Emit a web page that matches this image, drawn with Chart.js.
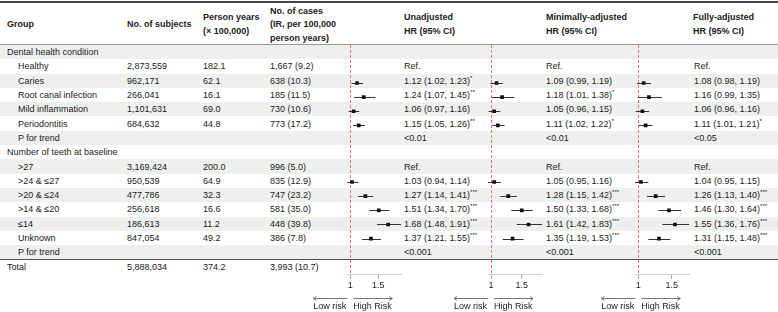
<!DOCTYPE html>
<html>
<head>
<meta charset="utf-8">
<script src="https://cdn.jsdelivr.net/npm/chart.js@4/dist/chart.umd.min.js"></script>
<style>
  body { margin: 0; width: 778px; height: 312px; position: relative; overflow: hidden; background: #fff;
         font-family: "Liberation Sans", Arial, sans-serif; font-size: 9px; color: #222; }
  .t { position: absolute; white-space: nowrap; line-height: 14px; height: 14px; }
  .h { font-weight: bold; }
  .band { position: absolute; left: 0; width: 778px; background: #eef0ee; }
  .rule { position: absolute; left: 0; width: 778px; }
  canvas { position: absolute; top: 45px; }
  sup { font-size: 6px; vertical-align: top; line-height: 9px; }
</style>
</head>
<body>
<div id="table"></div>
<canvas id="forest1" width="100" height="267"></canvas>
<canvas id="forest2" width="100" height="267"></canvas>
<canvas id="forest3" width="100" height="267"></canvas>
<script>
// ---- data ----
const rowLabels = ["Dental health condition", "Healthy", "Caries", "Root canal infection", "Mild inflammation",
  "Periodontitis", "P for trend", "Number of teeth at baseline", ">27", ">24 & \u226427", ">20 & \u226424",
  ">14 & \u226420", "\u226414", "Unknown", "P for trend", "Total"];
const rowIndent = [0, 1, 1, 1, 1, 1, 1, 0, 1, 1, 1, 1, 1, 1, 1, 0];
const subjects = ["", "2,873,559", "962,171", "266,041", "1,101,631", "684,632", "", "",
  "3,169,424", "950,539", "477,786", "256,618", "186,613", "847,054", "", "5,888,034"];
const personYears = ["", "182.1", "62.1", "16.1", "69.0", "44.8", "", "",
  "200.0", "64.9", "32.3", "16.6", "11.2", "49.2", "", "374.2"];
const cases = ["", "1,667 (9.2)", "638 (10.3)", "185 (11.5)", "730 (10.6)", "773 (17.2)", "", "",
  "996 (5.0)", "835 (12.9)", "747 (23.2)", "581 (35.0)", "448 (39.8)", "386 (7.8)", "", "3,993 (10.7)"];

const refRows = [1, 8];
const trendRows = [6, 14];

// unadjusted
const hrUnadj = [null, null, 1.12, 1.24, 1.06, 1.15, null, null, null, 1.03, 1.27, 1.51, 1.68, 1.37, null, null];
const loUnadj = [null, null, 1.02, 1.07, 0.97, 1.05, null, null, null, 0.94, 1.14, 1.34, 1.48, 1.21, null, null];
const hiUnadj = [null, null, 1.23, 1.45, 1.16, 1.26, null, null, null, 1.14, 1.41, 1.70, 1.91, 1.55, null, null];
const starUnadj = ["", "", "*", "**", "", "**", "", "", "", "", "***", "***", "***", "***", "", ""];
const trendUnadj = ["<0.01", "<0.001"];

// minimally adjusted
const hrMin = [null, null, 1.09, 1.18, 1.05, 1.11, null, null, null, 1.05, 1.28, 1.50, 1.61, 1.35, null, null];
const loMin = [null, null, 0.99, 1.01, 0.96, 1.02, null, null, null, 0.95, 1.15, 1.33, 1.42, 1.19, null, null];
const hiMin = [null, null, 1.19, 1.38, 1.15, 1.22, null, null, null, 1.16, 1.42, 1.68, 1.83, 1.53, null, null];
const starMin = ["", "", "", "*", "", "*", "", "", "", "", "***", "***", "***", "***", "", ""];
const trendMin = ["<0.01", "<0.001"];

// fully adjusted
const hrFull = [null, null, 1.08, 1.16, 1.06, 1.11, null, null, null, 1.04, 1.26, 1.46, 1.55, 1.31, null, null];
const loFull = [null, null, 0.98, 0.99, 0.96, 1.01, null, null, null, 0.95, 1.13, 1.30, 1.36, 1.15, null, null];
const hiFull = [null, null, 1.19, 1.35, 1.16, 1.21, null, null, null, 1.15, 1.40, 1.64, 1.76, 1.48, null, null];
const starFull = ["", "", "", "", "", "*", "", "", "", "", "***", "***", "***", "***", "", ""];
const trendFull = ["<0.05", "<0.001"];

const xTicks = [1, 1.5];

// ---- layout ----
var ROW_TOP = 45, ROW_H = 14.3;

function rowCenter(i) { return ROW_TOP + ROW_H * (i + 0.5); }

function addText(html, x, yc, cls) {
  var d = document.createElement('div');
  d.className = 't' + (cls ? ' ' + cls : '');
  d.style.left = x + 'px';
  d.style.top = (yc - 7) + 'px';
  d.innerHTML = html;
  document.getElementById('table').appendChild(d);
}

function addBox(cls, top, height, color) {
  var d = document.createElement('div');
  d.className = cls;
  d.style.top = top + 'px';
  d.style.height = height + 'px';
  if (color) d.style.background = color;
  document.getElementById('table').appendChild(d);
}

function esc(s) { return s.replace(/&/g, '&amp;').replace(/</g, '&lt;').replace(/>/g, '&gt;'); }

function hrText(i, hr, lo, hi, star, trend) {
  if (refRows.indexOf(i) >= 0) return 'Ref.';
  var k = trendRows.indexOf(i);
  if (k >= 0) return esc(trend[k]);
  if (hr[i] == null) return '';
  var s = hr[i].toFixed(2) + ' (' + lo[i].toFixed(2) + ', ' + hi[i].toFixed(2) + ')';
  if (star[i]) s += '<sup>' + star[i] + '</sup>';
  return s;
}

function buildTable() {
  // shaded rows
  for (var i = 0; i < 15; i += 2) addBox('band', ROW_TOP + ROW_H * i, ROW_H);
  addBox('rule', 1, 1.6, '#444');
  addBox('rule', 44, 1, '#999');
  addBox('rule', ROW_TOP + ROW_H * 15 - 0.5, 1, '#555');

  // header
  addText('Group', 7, 24, 'h');
  addText('No. of subjects', 127, 24, 'h');
  addText('Person years', 203, 17, 'h');
  addText('(\u00d7 100,000)', 203, 31, 'h');
  addText('No. of cases', 270, 10.5, 'h');
  addText('(IR, per 100,000', 270, 24, 'h');
  addText('person years)', 270, 38, 'h');
  addText('Unadjusted', 404, 17, 'h');
  addText('HR (95% CI)', 404, 31, 'h');
  addText('Minimally-adjusted', 546, 17, 'h');
  addText('HR (95% CI)', 546, 31, 'h');
  addText('Fully-adjusted', 693, 17, 'h');
  addText('HR (95% CI)', 693, 31, 'h');

  for (var r = 0; r < rowLabels.length; r++) {
    var yc = rowCenter(r);
    addText(esc(rowLabels[r]), rowIndent[r] ? 18 : 7, yc);
    addText(subjects[r], 127, yc);
    addText(personYears[r], 203, yc);
    addText(cases[r], 270, yc);
    addText(hrText(r, hrUnadj, loUnadj, hiUnadj, starUnadj, trendUnadj), 404, yc);
    addText(hrText(r, hrMin, loMin, hiMin, starMin, trendMin), 546, yc);
    addText(hrText(r, hrFull, loFull, hiFull, starFull, trendFull), 694, yc);
  }
}

// ---- forest panels ----
var forestPlugin = {
  id: 'forest',
  beforeDatasetsDraw: function (chart) {
    var ctx = chart.ctx, xs = chart.scales.x, ys = chart.scales.y;
    var ds = chart.data.datasets[0];
    var x0 = Math.round(xs.getPixelForValue(1)) + 0.5;
    ctx.save();
    ctx.strokeStyle = '#f07070';
    ctx.lineWidth = 1;
    ctx.setLineDash([3, 2]);
    ctx.beginPath();
    ctx.moveTo(x0, 0);
    ctx.lineTo(x0, chart.chartArea.bottom);
    ctx.stroke();
    ctx.setLineDash([]);
    ctx.strokeStyle = '#333';
    for (var i = 0; i < ds.hr.length; i++) {
      if (ds.hr[i] == null) continue;
      var yy = Math.round(ys.getPixelForValue(i)) + 0.5;
      ctx.beginPath();
      ctx.moveTo(xs.getPixelForValue(ds.lo[i]), yy);
      ctx.lineTo(xs.getPixelForValue(ds.hi[i]), yy);
      ctx.stroke();
    }
    ctx.restore();
  },
  afterDraw: function (chart) {
    var ctx = chart.ctx, xs = chart.scales.x;
    var x0 = xs.getPixelForValue(1);
    var base = chart.chartArea.bottom;
    var ay = Math.round(base + 24) + 0.5;
    ctx.save();
    ctx.strokeStyle = '#555';
    ctx.lineWidth = 0.8;
    ctx.beginPath();
    ctx.moveTo(x0 - 3, ay); ctx.lineTo(x0 - 37, ay);
    ctx.moveTo(x0 - 34, ay - 2); ctx.lineTo(x0 - 37, ay); ctx.lineTo(x0 - 34, ay + 2);
    ctx.moveTo(x0 + 3, ay); ctx.lineTo(x0 + 42, ay);
    ctx.moveTo(x0 + 39, ay - 2); ctx.lineTo(x0 + 42, ay); ctx.lineTo(x0 + 39, ay + 2);
    ctx.stroke();
    ctx.fillStyle = '#222';
    ctx.font = '9px "Liberation Sans", Arial, sans-serif';
    ctx.textBaseline = 'middle';
    ctx.textAlign = 'right';
    ctx.fillText('Low risk', x0 - 4, base + 32.5);
    ctx.textAlign = 'left';
    ctx.fillText('High Risk', x0 + 3, base + 32.5);
    ctx.restore();
  }
};

function makeForest(id, left, hr, lo, hi) {
  var el = document.getElementById(id);
  el.style.left = (left - 40) + 'px';
  var pts = [];
  for (var i = 0; i < hr.length; i++) {
    if (hr[i] != null) pts.push({ x: hr[i], y: i });
  }
  var los = lo.filter(function (v) { return v != null; });
  var his = hi.filter(function (v) { return v != null; });

  return new Chart(el, {
    type: 'scatter',
    data: {
      datasets: [{
        data: pts, hr: hr, lo: lo, hi: hi,
        pointStyle: 'rect', pointRadius: 2.6, pointHoverRadius: 2.6,
        backgroundColor: '#111', borderWidth: 0
      }]
    },
    options: {
      responsive: false,
      animation: false,
      events: [],
      layout: { padding: { left: 40, right: 6, top: 0, bottom: 0 } },
      plugins: { legend: { display: false }, tooltip: { enabled: false } },
      scales: {
        x: {
          type: 'linear',
          min: Math.min.apply(null, los),
          max: Math.max.apply(null, his),
          afterBuildTicks: function (s) { s.ticks = xTicks.map(function (v) { return { value: v }; }); },
          afterFit: function (s) { s.height = 38; },
          grid: { drawOnChartArea: false, drawTicks: true, tickLength: 5, color: '#aaa' },
          border: { color: '#d0d0d0', width: 1 },
          ticks: {
            font: { size: 9, family: 'Liberation Sans' }, color: '#222', padding: 1,
            maxRotation: 0, autoSkip: false,
            callback: function (v) { return String(v); }
          }
        },
        y: { type: 'linear', min: -0.5, max: 15.5, reverse: true, display: false }
      }
    },
    plugins: [forestPlugin]
  });
}

buildTable();
makeForest('forest1', 346.7, hrUnadj, loUnadj, hiUnadj);
makeForest('forest2', 487.9, hrMin, loMin, hiMin);
makeForest('forest3', 635, hrFull, loFull, hiFull);
</script>
</body>
</html>
